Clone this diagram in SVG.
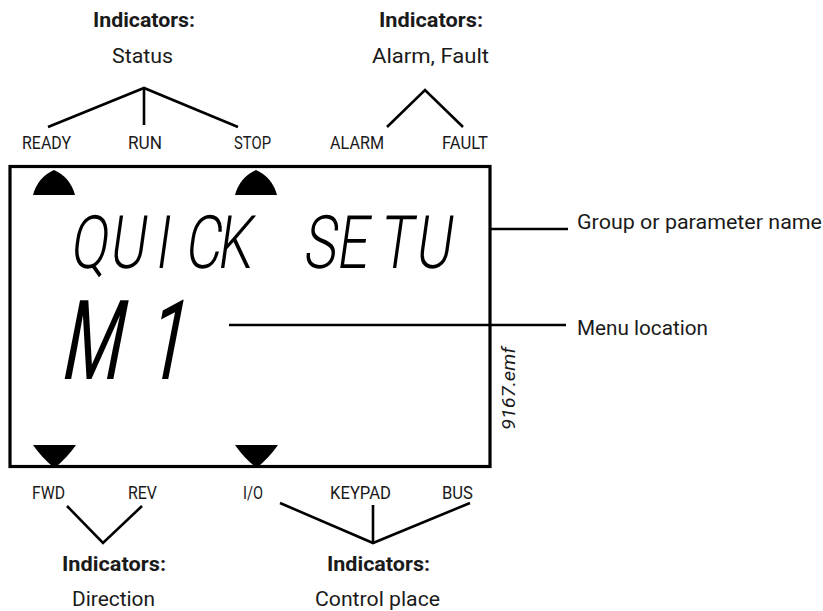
<svg xmlns="http://www.w3.org/2000/svg" width="823" height="611" viewBox="0 0 823 611">
<style>
.t{font-family:Roboto,"Liberation Sans",Arial,sans-serif;fill:#1a1a1a}
.h{font-size:20px;font-weight:bold}
.s{font-size:20px}
.l{font-size:17.5px}
.lcd{font-family:Roboto,"Liberation Sans",sans-serif;fill:#000}
.ln{stroke:#000;stroke-width:2.6;fill:none;stroke-linecap:butt;stroke-linejoin:miter}
.ind{fill:#000}
</style>
<rect width="823" height="611" fill="#fff"/>

<g id="display">
<rect x="10" y="166.5" width="480" height="300" fill="none" stroke="#000" stroke-width="3.2"/>
<path class="ind" d="M33,195 L75,195 Q70,177 54,170 Q38,177 33,195 Z"/>
<path class="ind" d="M235,195 L277,195 Q272,177 256,170 Q240,177 235,195 Z"/>
<path class="ind" d="M33,445 L76,445 Q67,458 54.5,468 Q42,458 33,445 Z"/>
<path class="ind" d="M235,445 L278,445 Q269,458 256.5,468 Q244,458 235,445 Z"/>
<g transform="translate(0,268) skewX(-8) scale(0.75,1)">
<text class="lcd" y="0" font-size="74" font-weight="300" x="92 144 205 245 288 347 403 447 504 552">QUICK SETU</text>
</g>
<g transform="translate(0,379) skewX(-11) scale(0.62,1)">
<text class="lcd" y="0" font-size="111" font-weight="400" x="95 232">M1</text>
</g>
<text class="t" font-size="19" font-style="italic" transform="translate(515,430) rotate(-90)" x="0" y="0" textLength="83" lengthAdjust="spacingAndGlyphs">9167.emf</text>
</g>

<g id="connectors">
<polyline class="ln" points="48,127 144,88 238,127"/>
<line class="ln" x1="144" y1="88" x2="144" y2="125"/>
<polyline class="ln" points="387,127 425,90 463,127"/>
<line class="ln" x1="490" y1="229" x2="568" y2="229"/>
<line class="ln" x1="229" y1="325" x2="566" y2="325"/>
<polyline class="ln" points="67,506 103,543 142,506"/>
<polyline class="ln" points="280,503 373,543 470,503"/>
<line class="ln" x1="373" y1="505" x2="373" y2="543"/>
</g>

<g id="status">
<text class="t h" x="93" y="27" textLength="102" lengthAdjust="spacingAndGlyphs">Indicators:</text>
<text class="t s" x="112" y="63" textLength="61" lengthAdjust="spacingAndGlyphs">Status</text>
<text class="t l" x="22" y="149" textLength="49" lengthAdjust="spacingAndGlyphs">READY</text>
<text class="t l" x="128" y="149" textLength="34" lengthAdjust="spacingAndGlyphs">RUN</text>
<text class="t l" x="234" y="149" textLength="37" lengthAdjust="spacingAndGlyphs">STOP</text>
</g>

<g id="alarm-fault">
<text class="t h" x="379" y="27" textLength="104" lengthAdjust="spacingAndGlyphs">Indicators:</text>
<text class="t s" x="372" y="63" textLength="117" lengthAdjust="spacingAndGlyphs">Alarm, Fault</text>
<text class="t l" x="330" y="149" textLength="54" lengthAdjust="spacingAndGlyphs">ALARM</text>
<text class="t l" x="442" y="149" textLength="46" lengthAdjust="spacingAndGlyphs">FAULT</text>
</g>

<g id="group-name">
<text class="t s" x="577" y="229" textLength="245" lengthAdjust="spacingAndGlyphs">Group or parameter name</text>
</g>

<g id="menu-location">
<text class="t s" x="577" y="335" textLength="131" lengthAdjust="spacingAndGlyphs">Menu location</text>
</g>

<g id="direction">
<text class="t l" x="32" y="499" textLength="33" lengthAdjust="spacingAndGlyphs">FWD</text>
<text class="t l" x="128" y="499" textLength="29" lengthAdjust="spacingAndGlyphs">REV</text>
<text class="t h" x="62" y="571" textLength="104" lengthAdjust="spacingAndGlyphs">Indicators:</text>
<text class="t s" x="72" y="606" textLength="83" lengthAdjust="spacingAndGlyphs">Direction</text>
</g>

<g id="control-place">
<text class="t l" x="243" y="499" textLength="20" lengthAdjust="spacingAndGlyphs">I/O</text>
<text class="t l" x="330" y="499" textLength="61" lengthAdjust="spacingAndGlyphs">KEYPAD</text>
<text class="t l" x="442" y="499" textLength="31" lengthAdjust="spacingAndGlyphs">BUS</text>
<text class="t h" x="327" y="571" textLength="103" lengthAdjust="spacingAndGlyphs">Indicators:</text>
<text class="t s" x="315" y="606" textLength="125" lengthAdjust="spacingAndGlyphs">Control place</text>
</g>
</svg>
